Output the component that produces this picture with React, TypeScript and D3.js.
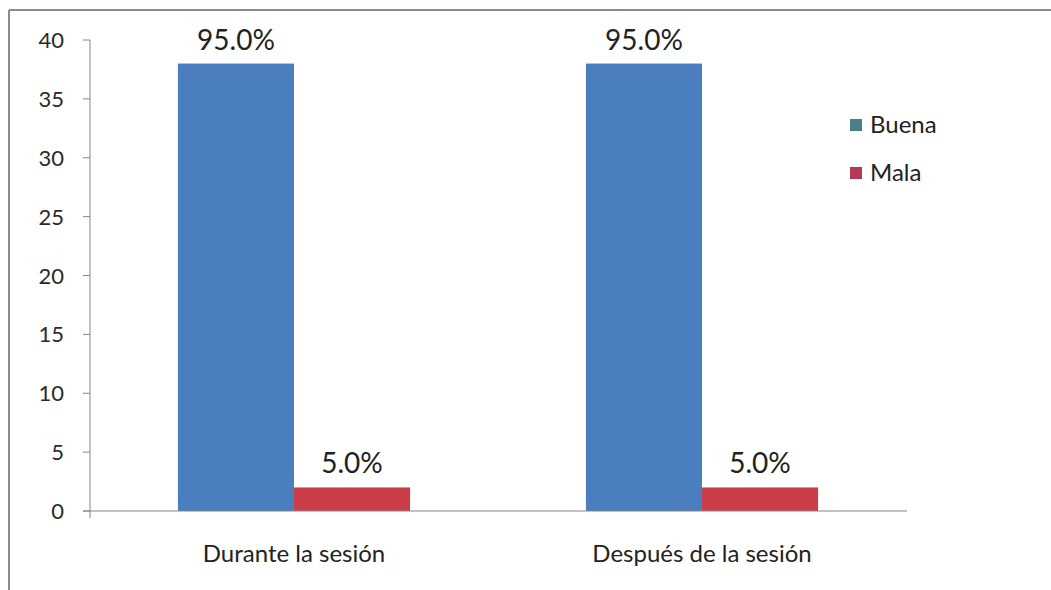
import React from "react";
import * as d3 from "d3";

const categories = ["Durante la sesión", "Después de la sesión"];
const seriesNames = ["Buena", "Mala"];
const buenaValues = [38, 38];
const malaValues = [2, 2];
const buenaLabels = ["95.0%", "95.0%"];
const malaLabels = ["5.0%", "5.0%"];
const yTicks = [0, 5, 10, 15, 20, 25, 30, 35, 40];

const W = 1051;
const H = 590;
const FONT = "Lato, 'Open Sans', sans-serif";
const colors = ["#4A7EBF", "#CC3E47"];
const legendColors = ["#4C7E8A", "#B8385A"];

export default function App() {
  const plotLeft = 90;
  const plotRight = 906;
  const plotTop = 40;
  const plotBottom = 511;

  const x = d3.scaleBand<string>().domain(categories).range([plotLeft, plotRight]).paddingInner(0.431).paddingOuter(0.2155);
  const xs = d3.scaleBand<string>().domain(seriesNames).range([0, x.bandwidth()]);
  const y = d3.scaleLinear().domain([0, 40]).range([plotBottom, plotTop]);

  const series = [
    { name: seriesNames[0], values: buenaValues, labels: buenaLabels, color: colors[0] },
    { name: seriesNames[1], values: malaValues, labels: malaLabels, color: colors[1] },
  ];

  return (
    <svg width={W} height={H} style={{ position: "absolute", left: 0, top: 0, background: "#fff" }}>
      <rect x={0} y={0} width={W} height={H} fill="#fff" />
      {/* frame */}
      <line x1={9} x2={W} y1={10} y2={10} stroke="#8a8a8a" strokeWidth={2} />
      <line x1={9} x2={9} y1={10} y2={H} stroke="#8a8a8a" strokeWidth={2} />

      {/* bars */}
      {series.map((s) =>
        categories.map((c, i) => {
          const bx = (x(c) as number) + (xs(s.name) as number);
          const by = y(s.values[i]);
          return (
            <g key={s.name + c}>
              <rect x={bx} y={by} width={xs.bandwidth()} height={plotBottom - by} fill={s.color} />
              <text x={bx + xs.bandwidth() / 2} y={by - 14} textAnchor="middle" fontFamily={FONT} fontSize={28} fill="#222">
                {s.labels[i]}
              </text>
            </g>
          );
        })
      )}

      {/* y axis */}
      <line x1={plotLeft} x2={plotLeft} y1={plotTop} y2={plotBottom + 7} stroke="#868686" strokeWidth={1} />
      {yTicks.map((t) => (
        <g key={t}>
          <line x1={plotLeft - 7} x2={plotLeft} y1={y(t)} y2={y(t)} stroke="#868686" strokeWidth={1} />
          <text x={64} y={y(t) + 8} textAnchor="end" fontFamily={FONT} fontSize={22} fill="#2a2a2a">
            {t}
          </text>
        </g>
      ))}

      {/* x axis */}
      <line x1={plotLeft - 7} x2={plotRight + 1} y1={plotBottom} y2={plotBottom} stroke="#868686" strokeWidth={1} />
      {categories.map((c) => (
        <text key={c} x={(x(c) as number) + x.bandwidth() / 2} y={562} textAnchor="middle" fontFamily={FONT} fontSize={24} fill="#222">
          {c}
        </text>
      ))}

      {/* legend */}
      {seriesNames.map((n, i) => (
        <g key={n}>
          <rect x={850} y={119 + i * 48} width={12} height={12} fill={legendColors[i]} />
          <text x={870} y={133 + i * 48} fontFamily={FONT} fontSize={24} fill="#222">
            {n}
          </text>
        </g>
      ))}
    </svg>
  );
}
